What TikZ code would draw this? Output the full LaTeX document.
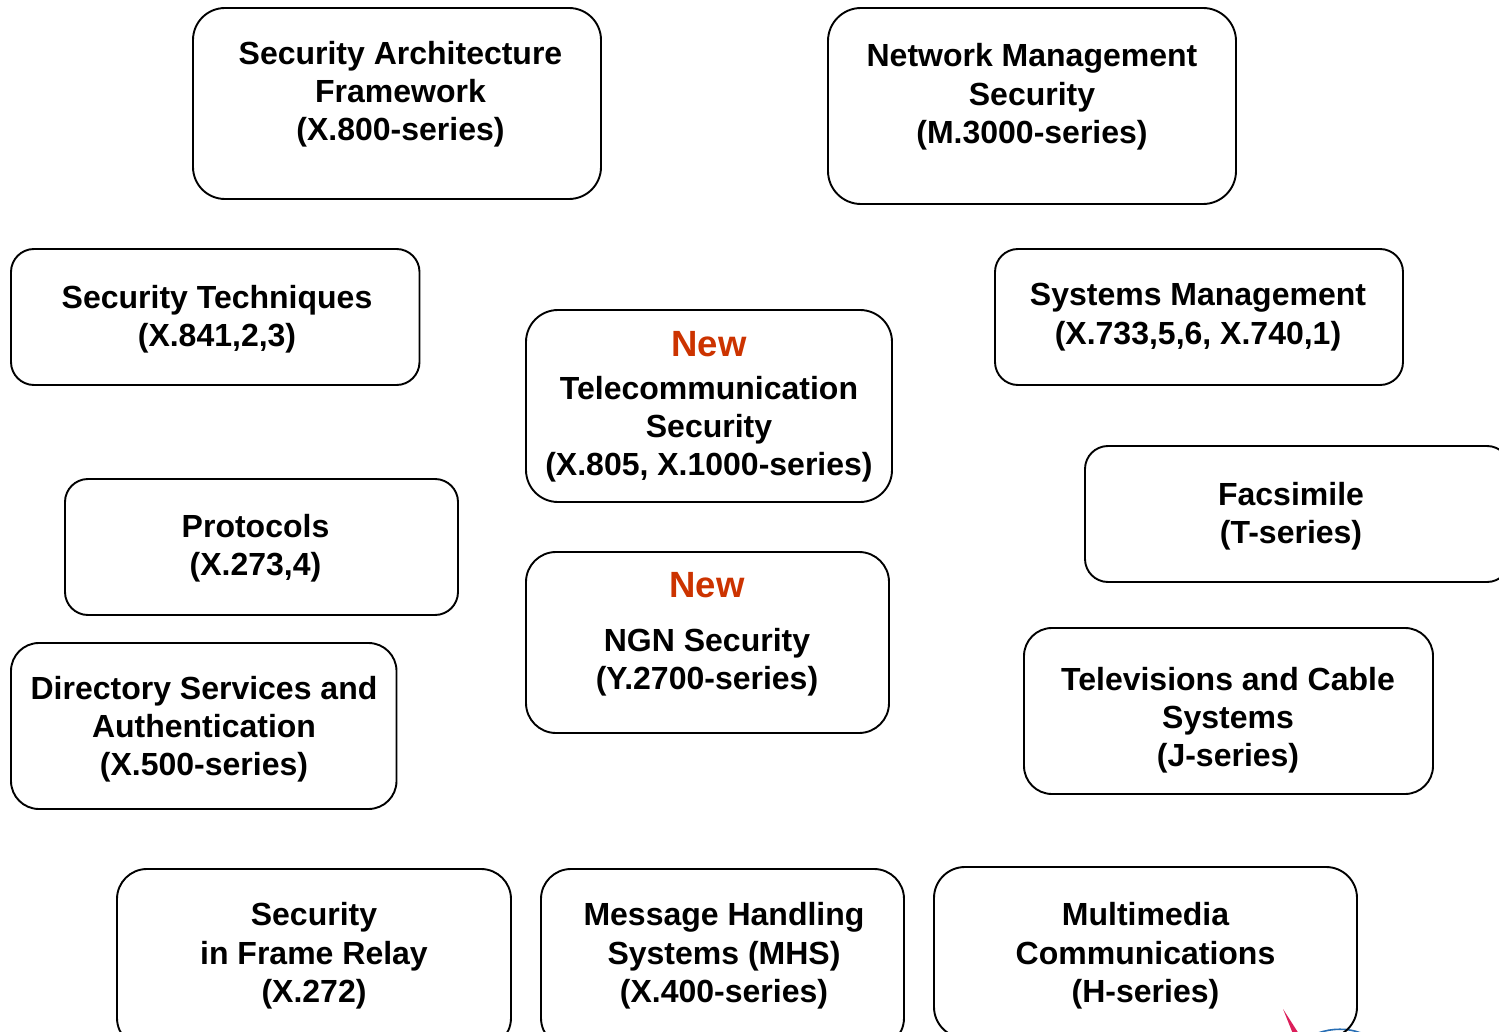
\documentclass[tikz,border=0pt]{standalone}
\usepackage{fontspec}
\setmainfont{Liberation Sans}
\definecolor{newred}{RGB}{204,51,0}
\definecolor{logoblue}{RGB}{40,110,180}
\definecolor{logopink}{RGB}{220,30,90}
\tikzset{
  boxbase/.style={draw=black,line width=1.9pt,fill=none,inner sep=0pt,outer sep=0pt},
  label/.style={inner sep=0pt,outer sep=0pt,align=center,text=black,font=\fontsize{32}{38.4}\selectfont\bfseries},
  newlabel/.style={inner sep=0pt,outer sep=0pt,text=newred,font=\fontsize{36.5}{44}\selectfont\bfseries}
}
% name, x0, y0, x1, y1, radius
\newcommand{\rbox}[6]{\node[boxbase,rounded corners=#6pt,minimum width=#4pt-#2pt,minimum height=#5pt-#3pt] (#1) at ({(#2+#4)/2},{(#3+#5)/2}) {};}
\begin{document}
\begin{tikzpicture}[x=1pt,y=-1pt]
\useasboundingbox (0,0) rectangle (1499,1032);
\clip (0,0) rectangle (1499,1032);
% logo fragments at the bottom edge
\fill[logopink] (1283,1009) -- (1299,1034) -- (1293,1034) -- cycle;
\draw[logoblue,line width=1.6pt] (1318,1033) .. controls (1332,1028) and (1348,1028) .. (1361,1033);
% boxes
\rbox{arch}{193}{8}{601}{199}{32}
\rbox{netm}{828}{8}{1236}{204}{33}
\rbox{tech}{11}{249}{419.5}{385}{23}
\rbox{sysm}{995}{249}{1403}{385}{23}
\rbox{tele}{526}{310}{892}{502}{32}
\rbox{fax}{1085}{446}{1510}{582}{23}
\rbox{prot}{65}{479}{458}{615}{23}
\rbox{ngn}{526}{552}{889}{733}{30}
\rbox{tv}{1024}{628}{1433}{794}{28}
\rbox{dir}{11}{643}{396.5}{809}{28}
\rbox{fr}{117}{869}{511}{1048}{30}
\rbox{mhs}{541}{869}{904}{1048}{30}
\rbox{mm}{934}{867}{1357}{1038}{31}
% texts
\node[label] (archt) at (400.5,94.2) {Security Architecture\\Framework\\(X.800-series)};
\node[label] (netmt) at (1032,97) {Network Management\\Security\\(M.3000-series)};
\node[label] (techt) at (217,319) {Security Techniques\\(X.841,2,3)};
\node[label] (sysmt) at (1198,317) {Systems Management\\(X.733,5,6, X.740,1)};
\node[newlabel] (telen) at (709,344) {New};
\node[label] (telet) at (709,429.3) {Telecommunication\\Security\\(X.805, X.1000-series)};
\node[label] (faxt) at (1291,516.3) {Facsimile\\(T-series)};
\node[label] (prott) at (255.5,548.3) {Protocols\\(X.273,4)};
\node[newlabel] (ngnn) at (707,585.5) {New};
\node[label] (ngnt) at (707,662.3) {NGN Security\\(Y.2700-series)};
\node[label] (tvt) at (1228,720.3) {Televisions and Cable\\Systems\\(J-series)};
\node[label] (dirt) at (204,729.3) {Directory Services and\\Authentication\\(X.500-series)};
\node[label] (frt) at (314,956) {Security\\in Frame Relay\\(X.272)};
\node[label] (mhst) at (724,956) {Message Handling\\Systems (MHS)\\(X.400-series)};
\node[label] (mmt) at (1145.5,956) {Multimedia\\Communications\\(H-series)};
\end{tikzpicture}
\end{document}
